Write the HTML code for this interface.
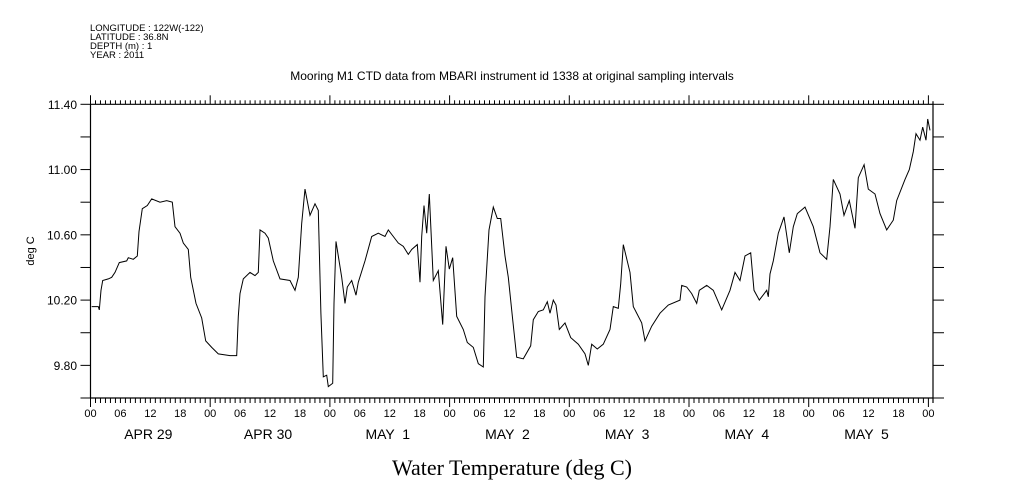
<!DOCTYPE html>
<html><head><meta charset="utf-8">
<style>
html,body{margin:0;padding:0;background:#fff;}
svg{display:block;font-family:"Liberation Sans",sans-serif;}
</style></head>
<body>
<svg id="chart" width="1009" height="504" viewBox="0 0 1009 504" xmlns="http://www.w3.org/2000/svg">
  <g font-size="9.5" fill="#000">
    <text x="90" y="31">LONGITUDE : 122W(-122)</text>
    <text x="90" y="40">LATITUDE : 36.8N</text>
    <text x="90" y="49">DEPTH (m) : 1</text>
    <text x="90" y="58">YEAR : 2011</text>
  </g>
  <text x="512" y="80" text-anchor="middle" font-size="12">Mooring M1 CTD data from MBARI instrument id 1338 at original sampling intervals</text>
  <text transform="translate(34,251) rotate(-90)" text-anchor="middle" font-size="11">deg C</text>
  <text x="512" y="475" text-anchor="middle" font-family="'Liberation Serif',serif" font-size="22">Water Temperature (deg C)</text>
  <g id="axes"></g>
  <g id="plot"></g>
</svg>
<script>
const hours = [0.24,1.56,1.76,2.1,2.45,3.57,4.25,4.91,5.77,7.26,7.58,8.58,9.38,9.72,10.39,11.39,12.27,13.93,15.28,16.4,16.94,17.94,18.6,19.61,20.09,21.15,22.3,23.1,24.3,25.62,27.97,29.31,29.63,29.97,30.64,31.98,32.98,33.64,33.98,34.99,35.65,36.65,37.99,40.0,41.0,41.66,42.35,43.0,44.0,45.01,45.67,46.2,46.68,47.36,47.68,48.56,48.82,49.22,49.68,50.37,51.03,51.49,52.37,53.23,53.69,55.04,56.38,57.7,59.05,59.71,60.71,61.71,62.72,63.72,64.4,65.52,66.06,66.4,66.87,67.41,67.93,68.73,69.73,70.62,71.28,71.94,72.62,73.42,74.75,75.55,76.75,77.76,78.76,79.1,79.9,80.76,81.56,82.24,83.1,83.77,84.65,85.45,86.77,88.26,88.78,89.78,90.78,91.59,92.13,92.79,93.33,93.99,95.13,96.28,97.8,99.15,99.81,100.49,101.61,102.82,104.16,104.82,105.82,106.31,106.83,108.17,108.83,110.52,111.18,112.52,114.19,115.85,118.2,118.54,119.54,120.54,121.55,122.07,123.55,124.87,126.56,128.22,129.22,130.22,131.23,132.37,133.03,134.09,135.58,135.9,136.24,136.9,137.9,139.05,140.11,140.91,141.71,143.26,144.92,146.26,147.61,148.27,148.93,150.27,151.07,152.14,153.28,153.95,155.1,155.95,157.3,158.3,159.64,160.96,161.64,163.3,164.17,164.97,165.51,166.31,166.86,167.52,167.86,168.32];
const temps = [10.16,10.16,10.14,10.26,10.32,10.33,10.34,10.37,10.43,10.44,10.46,10.45,10.47,10.62,10.76,10.78,10.82,10.80,10.81,10.80,10.65,10.61,10.55,10.51,10.34,10.18,10.09,9.95,9.91,9.87,9.86,9.86,10.10,10.24,10.33,10.37,10.35,10.37,10.63,10.61,10.58,10.44,10.33,10.32,10.26,10.34,10.67,10.88,10.72,10.79,10.75,10.12,9.73,9.74,9.67,9.69,10.18,10.56,10.47,10.34,10.18,10.28,10.32,10.23,10.31,10.44,10.59,10.61,10.59,10.63,10.59,10.55,10.53,10.48,10.51,10.54,10.31,10.59,10.78,10.61,10.85,10.32,10.38,10.05,10.53,10.39,10.46,10.10,10.02,9.94,9.91,9.81,9.79,10.22,10.63,10.77,10.70,10.70,10.47,10.34,10.08,9.85,9.84,9.92,10.08,10.13,10.14,10.19,10.12,10.20,10.17,10.02,10.06,9.97,9.93,9.87,9.80,9.93,9.90,9.93,10.02,10.16,10.15,10.30,10.54,10.37,10.16,10.06,9.95,10.04,10.12,10.17,10.20,10.29,10.28,10.24,10.18,10.26,10.29,10.26,10.14,10.26,10.37,10.32,10.47,10.49,10.26,10.20,10.26,10.22,10.36,10.44,10.61,10.71,10.49,10.65,10.73,10.77,10.65,10.49,10.45,10.65,10.94,10.85,10.72,10.81,10.64,10.95,11.03,10.88,10.85,10.73,10.63,10.69,10.81,10.94,11.00,11.11,11.22,11.18,11.26,11.18,11.31,11.24];
const hourLabels = ["00","06","12","18"];
const dayLabels = ["APR 29","APR 30","MAY  1","MAY  2","MAY  3","MAY  4","MAY  5"];
const yTicks = [9.6,9.8,10.0,10.2,10.4,10.6,10.8,11.0,11.2,11.4];
const yLabels = ["9.80","10.20","10.60","11.00","11.40"];

const X0=90.5, X1=928.4, T0=0, T1=168;
const Y0=398, Y1=104.3, V0=9.6, V1=11.4;
const xs = t => X0 + (t-T0)/(T1-T0)*(X1-X0);
const ys = v => Y0 - (v-V0)/(V1-V0)*(Y0-Y1);
const NS="http://www.w3.org/2000/svg";
const axes=document.getElementById('axes');
const plot=document.getElementById('plot');
function mk(tag, attrs, parent){const e=document.createElementNS(NS,tag);for(const k in attrs)e.setAttribute(k,attrs[k]);parent.appendChild(e);return e;}
const RX=933;
let l;
l=mk('line',{x1:X0,y1:Y0,x2:RX,y2:Y0,stroke:'#000','stroke-width':1.2},axes);


l=mk('line',{x1:X0,y1:Y1,x2:RX,y2:Y1,stroke:'#000','stroke-width':1.2},axes);


l=mk('line',{x1:X0,y1:Y0,x2:X0,y2:Y1,stroke:'#000','stroke-width':1.2},axes);


l=mk('line',{x1:RX,y1:Y0+5,x2:RX,y2:Y1-3,stroke:'#000','stroke-width':1.2},axes);


for(let h=0;h<=168;h++){
  const x=xs(h), day=(h%24===0);
  l=mk('line',{x1:x,y1:Y0,x2:x,y2:Y0+(day?9:5),stroke:'#000','stroke-width':1},axes);
  
  
  l=mk('line',{x1:x,y1:Y1,x2:x,y2:Y1-(day?9:4),stroke:'#000','stroke-width':1},axes);
  
  
  if(h%6===0){
    const t=mk('text',{x:x,y:417,'text-anchor':'middle','font-size':11},axes);
    t.textContent=hourLabels[(h/6)%4];
    
    
  }
}
dayLabels.forEach((d,i)=>{
  const t=mk('text',{x:xs(i*24+12)-2,y:439,'text-anchor':'middle','font-size':14},axes);
  t.textContent=d;
  t.style.whiteSpace='pre';
  
  
});
yTicks.forEach(v=>{
  const y=ys(v);
  l=mk('line',{x1:X0-10,y1:y,x2:X0,y2:y,stroke:'#000','stroke-width':1},axes);
  
  
  l=mk('line',{x1:RX,y1:y,x2:RX+11,y2:y,stroke:'#000','stroke-width':1},axes);
  
  
});
yLabels.forEach(s=>{
  const t=mk('text',{x:77,y:ys(parseFloat(s))+4.5,'text-anchor':'end','font-size':12},axes);
  t.textContent=s;
  
  
});
const pts=hours.map((h,i)=>xs(h).toFixed(1)+','+ys(temps[i]).toFixed(1)).join(' ');
const pl=mk('polyline',{points:pts,fill:'none',stroke:'#000','stroke-width':1,'stroke-linejoin':'miter'},plot);


</script>
</body></html>
